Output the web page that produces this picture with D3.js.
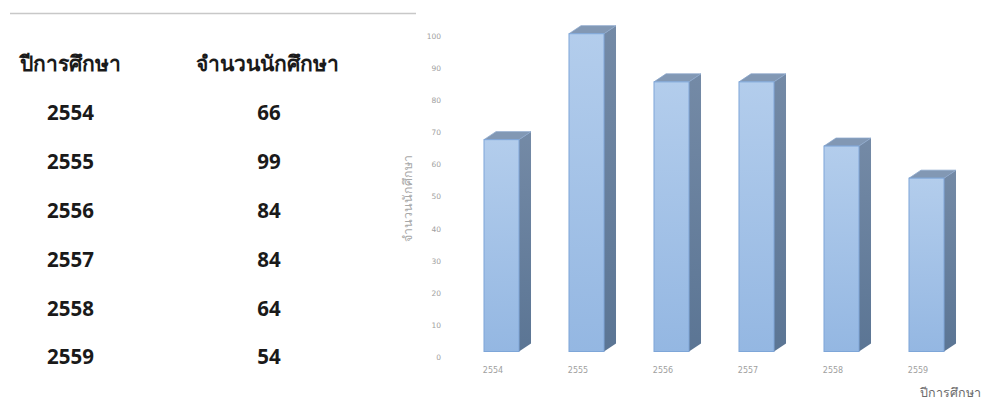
<!DOCTYPE html>
<html><head><meta charset="utf-8">
<script src="https://cdn.jsdelivr.net/npm/d3@7"></script>
<style>
html,body{margin:0;padding:0;background:#fff;}
svg{display:block;}
</style></head>
<body><svg id="c" width="985" height="401"></svg>
<script>
const years = ["2554","2555","2556","2557","2558","2559"];
const students = [66, 99, 84, 84, 64, 54];
const yTicks = [0,10,20,30,40,50,60,70,80,90,100];
const headerYear = "ปีการศึกษา";
const headerCount = "จำนวนนักศึกษา";
const yTitle = "จำนวนนักศึกษา";
const xTitle = "ปีการศึกษา";

const svg = d3.select("#c");
const thai = "Tahoma, 'Noto Sans', 'DejaVu Sans', sans-serif";

// top rule
svg.append("line").attr("x1",10).attr("x2",416).attr("y1",13.5).attr("y2",13.5)
  .attr("stroke","#c8c8c8").attr("stroke-width",1.5);

// table
const rowY = d3.scalePoint().domain(years).range([113, 357]);
svg.append("text").attr("x",20).attr("y",71).text(headerYear)
  .attr("font-family",thai).attr("font-size",21).attr("font-weight","bold").attr("fill","#1a1a1a");
svg.append("text").attr("x",196).attr("y",71).text(headerCount)
  .attr("font-family",thai).attr("font-size",21).attr("font-weight","bold").attr("fill","#1a1a1a");
const rows = svg.append("g").selectAll("g").data(years).join("g");
rows.append("text").attr("x",70.5).attr("y",d=>rowY(d)).attr("dy","0.36em")
  .attr("text-anchor","middle").text(d=>d)
  .attr("font-family",thai).attr("font-size",20.5).attr("font-weight","bold").attr("fill","#1a1a1a");
rows.append("text").attr("x",269).attr("y",d=>rowY(d)).attr("dy","0.36em")
  .attr("text-anchor","middle").text((d,i)=>students[i])
  .attr("font-family",thai).attr("font-size",20.5).attr("font-weight","bold").attr("fill","#1a1a1a");

// chart
const x = d3.scaleBand().domain(years).range([459, 969]).paddingInner(0.588).paddingOuter(0.294);
const y = d3.scaleLinear().domain([0,100]).range([357, 36]);
const frontShift = -5.5;   // front face plane offset
const depthX = 12, depthY = 8;

const defs = svg.append("defs");
const gf = defs.append("linearGradient").attr("id","gf").attr("x1",0).attr("y1",0).attr("x2",0).attr("y2",1);
gf.append("stop").attr("offset","0%").attr("stop-color","#b3cdec");
gf.append("stop").attr("offset","100%").attr("stop-color","#94b7e2");
const gs = defs.append("linearGradient").attr("id","gs").attr("x1",0).attr("y1",0).attr("x2",0).attr("y2",1);
gs.append("stop").attr("offset","0%").attr("stop-color","#748aa6");
gs.append("stop").attr("offset","100%").attr("stop-color","#5b7594");

// y axis
const yAxis = d3.axisLeft(y).tickValues(yTicks).tickSize(0).tickPadding(0);
const ya = svg.append("g").attr("transform","translate(441,0)").call(yAxis);
ya.select(".domain").remove();
ya.selectAll("text").attr("font-family","'DejaVu Sans', sans-serif").attr("font-size",7.5).attr("fill","#a0a0a0");

// x axis labels
const xAxis = d3.axisBottom(x).tickSize(0).tickPadding(0);
const xa = svg.append("g").attr("transform","translate(-8.5,367)").call(xAxis);
xa.select(".domain").remove();
xa.selectAll("text").attr("font-family","'DejaVu Sans', sans-serif").attr("font-size",8).attr("fill","#a0a0a0");

// bars
const bars = svg.append("g").selectAll("g").data(years).join("g");
bars.append("path").attr("fill","url(#gs)")
  .attr("d",(d,i)=>{
    const x0 = x(d)+x.bandwidth(), t = y(students[i])+frontShift, b = y(0)+frontShift;
    return `M${x0},${t}L${x0+depthX},${t-depthY}L${x0+depthX},${b-depthY}L${x0},${b}Z`;
  });
bars.append("path").attr("fill","#8298b4").attr("stroke","#8aa6cc").attr("stroke-width",0.8)
  .attr("d",(d,i)=>{
    const x0 = x(d), x1 = x(d)+x.bandwidth(), t = y(students[i])+frontShift;
    return `M${x0},${t}L${x0+depthX},${t-depthY}L${x1+depthX},${t-depthY}L${x1},${t}Z`;
  });
bars.append("rect").attr("fill","url(#gf)").attr("stroke","#7ea6d8").attr("stroke-width",1)
  .attr("x",d=>x(d)).attr("width",x.bandwidth())
  .attr("y",(d,i)=>y(students[i])+frontShift)
  .attr("height",(d,i)=>y(0)-y(students[i]));

// axis titles
svg.append("text").attr("transform","translate(412,198) rotate(-90)").attr("text-anchor","middle")
  .text(yTitle).attr("font-family",thai).attr("font-size",12.5).attr("fill","#a8a8a8");
svg.append("text").attr("x",981).attr("y",397).attr("text-anchor","end")
  .text(xTitle).attr("font-family",thai).attr("font-size",12.5).attr("fill","#6a6a6a");
</script></body></html>
